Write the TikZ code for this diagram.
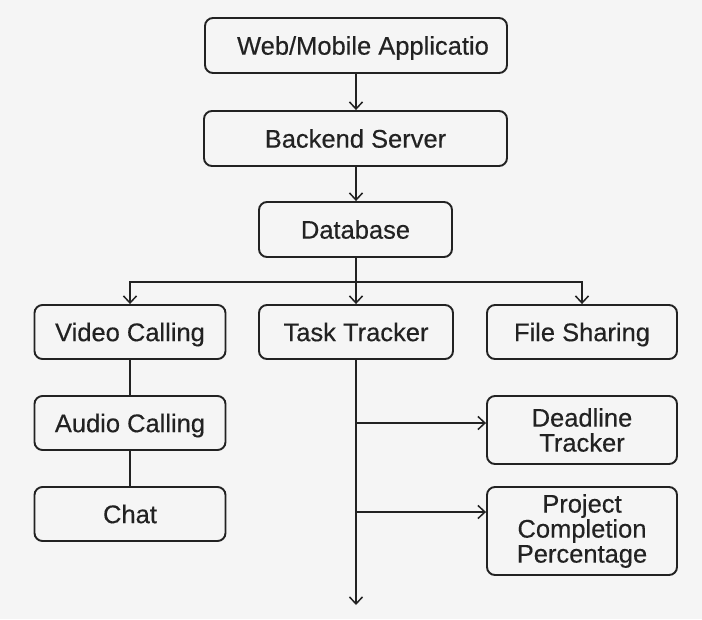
\documentclass[tikz,border=0pt]{standalone}
\usepackage{fontspec}
\newfontfamily\heavyfont[FakeBold=0.35]{Liberation Sans}
\usetikzlibrary{arrows.meta}
\definecolor{bg}{HTML}{F5F5F5}
\definecolor{ink}{HTML}{222222}
\begin{document}
\begin{tikzpicture}[x=1pt,y=-1pt,
  box/.style={draw=ink,line width=1.9pt,rounded corners=8pt,fill=bg,text=ink,
    font=\heavyfont\fontsize{25.5}{25}\selectfont,align=center,inner sep=0pt},
  onebox/.style={box,text height=18.3pt,text depth=0pt},
  conn/.style={draw=ink,line width=1.7pt},
  arr/.style={conn,-{Straight Barb[length=7pt,width=13pt,line width=1.5pt]}}]
\fill[bg] (0,0) rectangle (702,619);
\useasboundingbox (0,0) rectangle (702,619);
\node[onebox,minimum width=302pt,minimum height=55pt] (web) at (356,45.5) {\hspace*{14pt}Web/Mobile Applicatio};
\node[onebox,minimum width=303pt,minimum height=55pt] (backend) at (355.5,138.5) {Backend Server};
\node[onebox,minimum width=193pt,minimum height=55pt] (db) at (355.5,229.5) {Database};
\node[onebox,minimum width=191pt,minimum height=54pt] (video) at (130,332) {Video Calling};
\node[onebox,minimum width=194pt,minimum height=54pt] (task) at (356,332) {Task Tracker};
\node[onebox,minimum width=190pt,minimum height=54pt] (file) at (582,332) {File Sharing};
\node[onebox,minimum width=191pt,minimum height=54pt] (audio) at (130,423) {Audio Calling};
\node[onebox,minimum width=191pt,minimum height=54pt] (chat) at (130,514) {Chat};
\node[box,minimum width=190pt,minimum height=68pt] (deadline) at (582,430) {Deadline\\Tracker};
\node[box,minimum width=190pt,minimum height=88pt] (project) at (582,531) {Project\\Completion\\Percentage};
\coordinate (split) at (356,282);
\coordinate (b1) at (356,423);
\coordinate (b2) at (356,512);
\coordinate (end) at (356,605);
\draw[arr] (web.south -| split) -- (backend.north -| split);
\draw[arr] (backend.south -| split) -- (db.north -| split);
\draw[conn] (db.south -| split) -- (split);
\draw[arr] (split) -| (video.north);
\draw[arr] (split) -- (task.north);
\draw[arr] (split) -| (file.north);
\draw[conn] (video) -- (audio);
\draw[conn] (audio) -- (chat);
\draw[arr] (task.south) -- (end);
\draw[arr] (b1) -- (b1 -| deadline.west);
\draw[arr] (b2) -- (b2 -| project.west);
\end{tikzpicture}
\end{document}
